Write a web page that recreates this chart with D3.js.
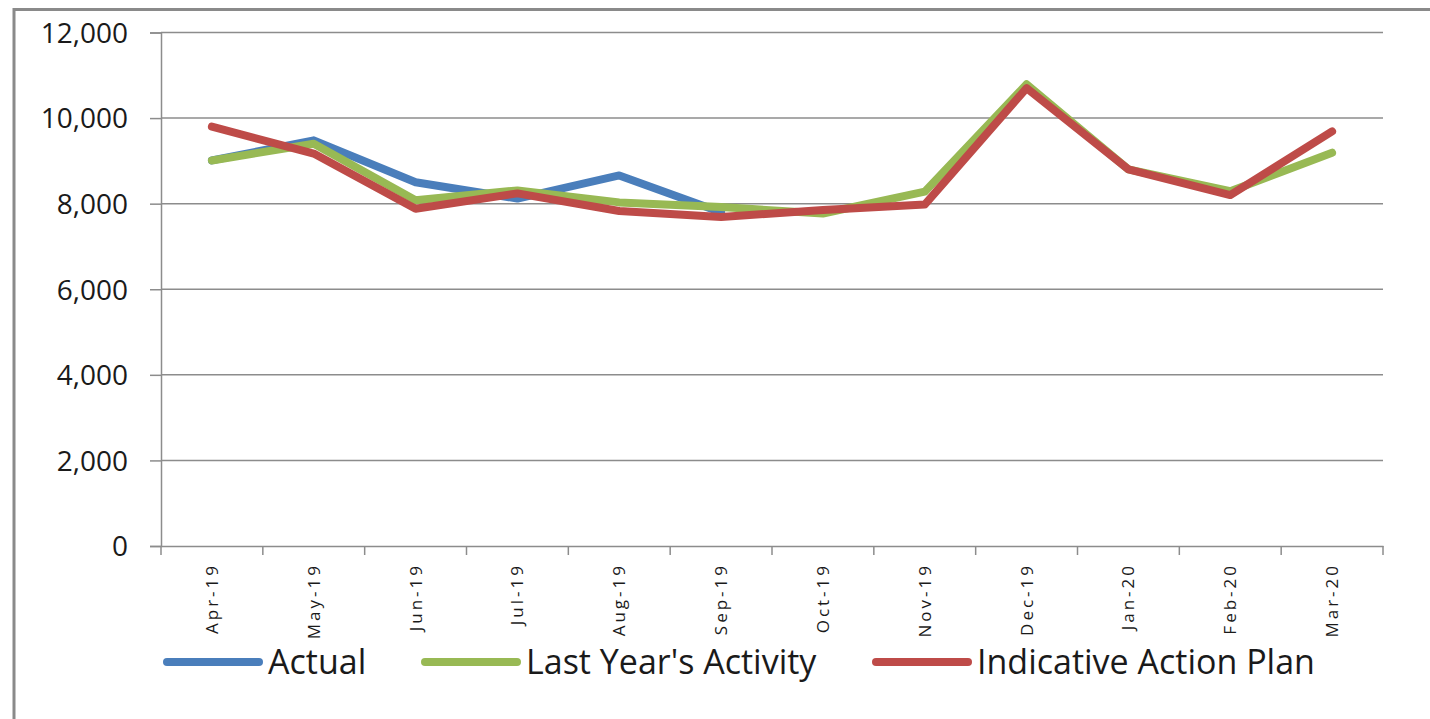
<!DOCTYPE html>
<html>
<head>
<meta charset="utf-8">
<script src="https://cdn.jsdelivr.net/npm/d3@7"></script>
<style>
  html, body { margin: 0; padding: 0; background: #fff; }
  svg { display: block; }
  text { font-family: "Open Sans", "Noto Sans", sans-serif; fill: #1a1a1a; }
</style>
</head>
<body>
<svg id="chart" width="1430" height="719"></svg>
<script>
const categories = ["Apr-19","May-19","Jun-19","Jul-19","Aug-19","Sep-19","Oct-19","Nov-19","Dec-19","Jan-20","Feb-20","Mar-20"];
const actual       = [9010, 9480, 8500, 8120, 8660, 7800, null, null, null, null, null, null];
const lastYear     = [9010, 9400, 8080, 8310, 8030, 7920, 7770, 8280, 10790, 8800, 8290, 9190];
const actionPlan   = [9800, 9170, 7880, 8240, 7830, 7690, 7850, 7980, 10700, 8800, 8200, 9690];
const yTicks       = [0, 2000, 4000, 6000, 8000, 10000, 12000];
const seriesNames  = ["Actual", "Last Year's Activity", "Indicative Action Plan"];
const seriesColors = ["#4a7ebb", "#98b954", "#be4b48"];

(function () {
const svg = d3.select("#chart");
const pLeft = 161, pRight = 1383, pTop = 32.5, pBottom = 546;

// frame
svg.append("rect").attr("x", 14).attr("y", 9.5).attr("width", 1500).attr("height", 800)
  .attr("fill", "#fff").attr("stroke", "#8a8a8a").attr("stroke-width", 3);

const x = d3.scaleBand().domain(categories).range([pLeft, pRight]).padding(0);
const y = d3.scaleLinear().domain([0, 12000]).range([pBottom, pTop]);

// gridlines
svg.append("g").selectAll("line").data(yTicks.filter(d => d > 0)).join("line")
  .attr("x1", pLeft).attr("x2", pRight)
  .attr("y1", d => y(d)).attr("y2", d => y(d))
  .attr("stroke", "#8c8c8c").attr("stroke-width", 1.5);

// y axis
const yAxis = d3.axisLeft(y).tickValues(yTicks).tickSize(11).tickPadding(22)
  .tickFormat(d3.format(","));
const gy = svg.append("g").attr("transform", `translate(${pLeft},0)`).call(yAxis);
gy.select(".domain").attr("stroke", "#8c8c8c").attr("stroke-width", 1.5);
gy.selectAll(".tick line").attr("stroke", "#8c8c8c").attr("stroke-width", 1.5);
gy.selectAll(".tick text").attr("font-size", 28).attr("fill", "#1a1a1a")
  .attr("font-family", '"Open Sans", sans-serif').attr("dy", "0.35em");

// x axis
const xAxis = d3.axisBottom(x).tickSize(0).tickPadding(0);
const gx = svg.append("g").attr("transform", `translate(0,${pBottom})`).call(xAxis);
gx.select(".domain").attr("stroke", "#8c8c8c").attr("stroke-width", 1.5);
const bounds = categories.map(c => x(c)).concat([x(categories[categories.length - 1]) + x.bandwidth()]);
gx.selectAll(".bound").data(bounds).join("line").attr("class", "bound")
  .attr("x1", d => d).attr("x2", d => d).attr("y1", 0).attr("y2", 9)
  .attr("stroke", "#8c8c8c").attr("stroke-width", 1.5);
gx.selectAll(".tick text")
  .attr("font-size", 17).attr("fill", "#1a1a1a")
  .attr("font-family", '"Open Sans", sans-serif')
  .attr("letter-spacing", "3px")
  .attr("text-anchor", "end")
  .attr("transform", "rotate(-90)")
  .attr("x", -17).attr("y", 0).attr("dy", "0.35em");

// lines
const line = d3.line()
  .defined(d => d != null)
  .x((d, i) => x(categories[i]) + x.bandwidth() / 2)
  .y(d => y(d));
[actual, lastYear, actionPlan].forEach((s, i) => {
  svg.append("path").datum(s).attr("d", line)
    .attr("fill", "none").attr("stroke", seriesColors[i])
    .attr("stroke-width", 8).attr("stroke-linecap", "round").attr("stroke-linejoin", "round");
});

// legend
const legendX = [167, 425, 876];
const legendY = 662;
const lg = svg.append("g").selectAll("g").data(seriesNames).join("g")
  .attr("transform", (d, i) => `translate(${legendX[i]},${legendY})`);
lg.append("line").attr("x1", 0).attr("x2", 92).attr("y1", 0).attr("y2", 0)
  .attr("stroke", (d, i) => seriesColors[i]).attr("stroke-width", 8).attr("stroke-linecap", "round");
lg.append("text").attr("x", 101).attr("y", 0).attr("dy", "0.35em")
  .attr("font-size", 34).text(d => d);
})();
</script>
</body>
</html>
